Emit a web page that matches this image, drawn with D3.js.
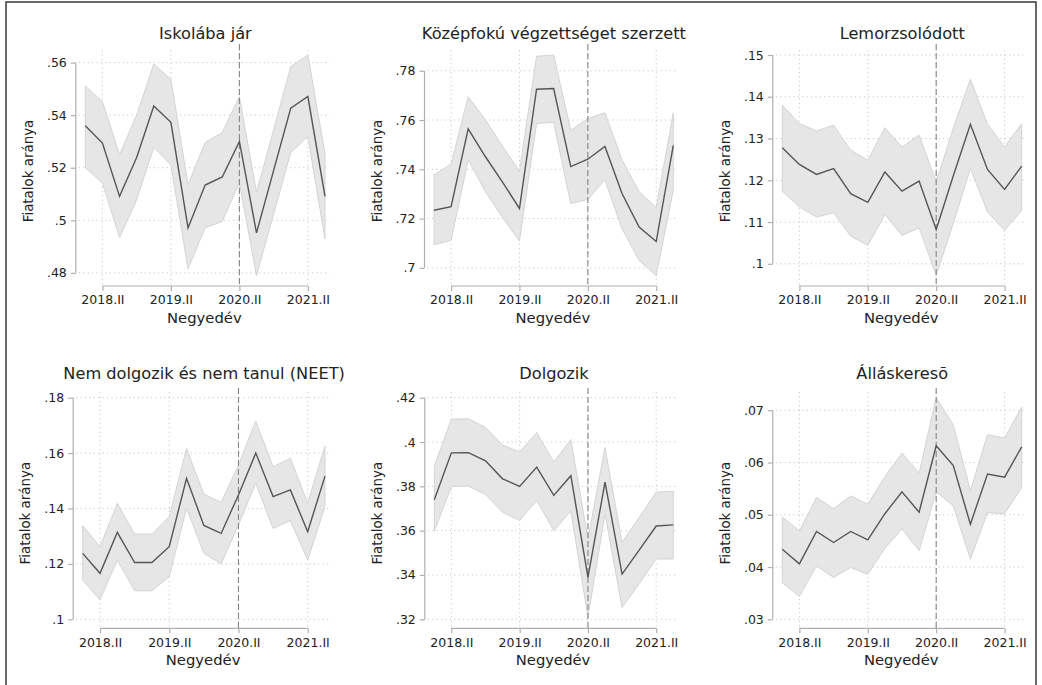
<!DOCTYPE html>
<html><head><meta charset="utf-8">
<script src="https://cdn.jsdelivr.net/npm/d3@7"></script>
<style>body{margin:0;background:#fff}svg{display:block}text{font-family:"DejaVu Sans",sans-serif;fill:#222}</style>
</head><body>
<svg id="c" width="1042" height="685"></svg>
<script>
const quarters = ["2018.I","2018.II","2018.III","2018.IV","2019.I","2019.II","2019.III","2019.IV","2020.I","2020.II","2020.III","2020.IV","2021.I","2021.II","2021.III"];
const xTickLabels = ["2018.II","2019.II","2020.II","2021.II"];
const breakQuarter = "2020.II";
const xTitle = "Negyedév";
const yTitle = "Fiatalok aránya";
const titles = ["Iskolába jár","Középfokú végzettséget szerzett","Lemorzsolódott","Nem dolgozik és nem tanul (NEET)","Dolgozik","Álláskeresõ"];

const iskolaEst = [.536,.5294,.5091,.5239,.5435,.5373,.4971,.5134,.5165,.530,.4952,.519,.5427,.5471,.5091];
const iskolaHi  = [.5511,.5452,.5249,.5401,.5595,.5537,.5135,.5296,.5334,.5471,.5106,.5345,.5585,.5629,.5253];
const iskolaLo  = [.520,.5142,.4934,.5078,.5278,.5211,.4815,.4971,.4996,.5142,.479,.5024,.5258,.5319,.4929];
const iskolaTicks = [.48,.5,.52,.54,.56];

const kozepEst = [.7234,.7248,.7564,.7452,.7349,.7241,.7725,.7728,.7411,.7441,.7493,.7302,.7166,.7107,.7497];
const kozepHi  = [.7377,.7422,.7695,.7602,.7495,.7391,.7859,.7864,.7558,.7606,.7629,.7439,.7309,.7245,.7629];
const kozepLo  = [.7094,.7111,.7439,.731,.7205,.7109,.7586,.7591,.7261,.7278,.7357,.7159,.703,.6969,.7316];
const kozepTicks = [.7,.72,.74,.76,.78];

const lemorEst = [.1278,.1238,.1214,.1228,.1168,.1147,.122,.1174,.1198,.1082,.1211,.1334,.1226,.1178,.1234];
const lemorHi  = [.138,.1336,.1318,.1332,.1272,.1248,.1326,.128,.1308,.1196,.1325,.1442,.1334,.128,.1336];
const lemorLo  = [.1174,.1136,.1112,.1122,.1066,.1044,.1118,.1068,.1086,.0972,.1097,.1228,.1124,.108,.1128];
const lemorTicks = [.1,.11,.12,.13,.14,.15];

const neetEst = [.1238,.1166,.1314,.1205,.1205,.1262,.1509,.1339,.131,.1449,.16,.1443,.1467,.1316,.1517];
const neetHi  = [.1339,.1262,.1419,.1308,.1308,.1371,.1617,.1452,.1422,.1557,.1716,.1551,.1581,.1419,.1626];
const neetLo  = [.1142,.107,.1214,.1103,.1103,.1154,.1401,.1238,.12,.134,.1491,.1328,.1356,.1214,.1407];
const neetTicks = [.1,.12,.14,.16,.18];

const dolgEst = [.3739,.3951,.3952,.3915,.3834,.38,.3887,.3759,.3848,.3389,.3819,.3404,.3512,.3621,.3626];
const dolgHi  = [.389,.4103,.4105,.4066,.3986,.3955,.4043,.391,.4011,.3563,.3975,.3547,.366,.3774,.3777];
const dolgLo  = [.3597,.38,.3801,.3763,.3683,.3646,.3736,.36,.3688,.3208,.3676,.3253,.336,.3472,.3472];
const dolgTicks = [.32,.34,.36,.38,.4,.42];

const allasEst = [.0434,.0406,.0468,.0447,.0468,.0452,.0502,.0544,.0505,.0632,.0594,.0482,.0578,.0572,.063];
const allasHi  = [.0496,.0469,.0533,.0512,.0536,.052,.0573,.0618,.058,.0724,.0672,.0546,.0653,.0647,.0706];
const allasLo  = [.037,.0344,.0402,.038,.0399,.0386,.0436,.0473,.0431,.0544,.0517,.0415,.0504,.0502,.0552];
const allasTicks = [.03,.04,.05,.06,.07];

const panels = [
  {title:titles[0], est:iskolaEst, hi:iskolaHi, lo:iskolaLo, ticks:iskolaTicks},
  {title:titles[1], est:kozepEst, hi:kozepHi, lo:kozepLo, ticks:kozepTicks},
  {title:titles[2], est:lemorEst, hi:lemorHi, lo:lemorLo, ticks:lemorTicks},
  {title:titles[3], est:neetEst, hi:neetHi, lo:neetLo, ticks:neetTicks},
  {title:titles[4], est:dolgEst, hi:dolgHi, lo:dolgLo, ticks:dolgTicks},
  {title:titles[5], est:allasEst, hi:allasHi, lo:allasLo, ticks:allasTicks}
];

// layout
const colX = [[[85.3,325],[434,673.3],[782.3,1021.7]],[[82.7,325],[434.3,673.3],[782.3,1021.7]]];
const rows = [
  {dataTop:55, dataBot:275.5, axisY:286, gridTop:50, dashTop:44, tickLab:303.5, xTitleY:322.5, titleY:39.3},
  {dataTop:397.7, dataBot:619.3, axisY:628.3, gridTop:392, dashTop:388, tickLab:647.5, xTitleY:665, titleY:379.3}
];

const svg = d3.select("#c");
svg.append("rect").attr("x",6).attr("y",2).attr("width",1030).attr("height",700)
  .attr("fill","#fff").attr("stroke","#444").attr("stroke-width",1.6);

const fmt = v => String(+v.toFixed(3)).replace(/^0/, "");
const gridCol = "#c8c8c8", axisCol = "#b0b0b0";

panels.forEach((p, i) => {
  const r = Math.floor(i/3), c = i%3;
  const R = rows[r];
  const [x0, x1] = colX[r][c];
  const x = d3.scalePoint().domain(quarters).range([x0, x1]);
  const ymin = d3.min([...p.lo, ...p.ticks]), ymax = d3.max([...p.hi, ...p.ticks]);
  const y = d3.scaleLinear().domain([ymin, ymax]).range([R.dataBot, R.dataTop]);
  const axisX = x0 - 9.5;
  const regL = axisX + 3, regR = x1 + 5;
  const g = svg.append("g");

  g.selectAll(".hg").data(p.ticks).join("line")
    .attr("x1", regL).attr("x2", regR).attr("y1", d=>y(d)).attr("y2", d=>y(d))
    .attr("stroke", gridCol).attr("stroke-width",1).attr("stroke-dasharray","1.2,3.2");
  g.selectAll(".vg").data(xTickLabels).join("line")
    .attr("x1", d=>x(d)).attr("x2", d=>x(d)).attr("y1", R.gridTop).attr("y2", R.axisY)
    .attr("stroke", gridCol).attr("stroke-width",1).attr("stroke-dasharray","1.2,3.2");

  const idx = d3.range(quarters.length);
  g.append("path").datum(idx)
    .attr("d", d3.area().x(k=>x(quarters[k])).y0(k=>y(p.lo[k])).y1(k=>y(p.hi[k])))
    .attr("fill","#e6e6e6").attr("stroke","#d4d4d4").attr("stroke-width",1);

  g.append("line").attr("x1", x(breakQuarter)).attr("x2", x(breakQuarter))
    .attr("y1", R.dashTop).attr("y2", R.axisY)
    .attr("stroke","#858585").attr("stroke-width",1.1).attr("stroke-dasharray","6,3");

  g.append("path").datum(idx)
    .attr("d", d3.line().x(k=>x(quarters[k])).y(k=>y(p.est[k])))
    .attr("fill","none").attr("stroke","#555").attr("stroke-width",1.4);

  const ya = d3.axisLeft(y).tickValues(p.ticks).tickFormat(fmt).tickSize(5).tickPadding(4);
  const yg = g.append("g").attr("transform",`translate(${axisX},0)`).call(ya);
  yg.select(".domain").remove();
  yg.append("line").attr("x1",0).attr("x2",0).attr("y1",y(d3.min(p.ticks))).attr("y2",y(d3.max(p.ticks)))
    .attr("stroke",axisCol).attr("stroke-width",1.2);
  yg.selectAll(".tick line").attr("stroke",axisCol).attr("stroke-width",1.2);
  yg.selectAll(".tick text").attr("font-size",12.5).attr("fill","#222").attr("font-family","DejaVu Sans");

  const xa = d3.axisBottom(x).tickValues(xTickLabels).tickSize(5).tickPadding(4);
  const xg = g.append("g").attr("transform",`translate(0,${R.axisY})`).call(xa);
  xg.select(".domain").remove();
  xg.append("line").attr("x1",x(xTickLabels[0])).attr("x2",x(xTickLabels[xTickLabels.length-1]))
    .attr("y1",0).attr("y2",0).attr("stroke",axisCol).attr("stroke-width",1.2);
  xg.selectAll(".tick line").attr("stroke",axisCol).attr("stroke-width",1.2);
  xg.selectAll(".tick text").attr("font-size",12.5).attr("fill","#222").attr("font-family","DejaVu Sans")
    .attr("dy",null).attr("y", R.tickLab - R.axisY);

  const cx = (regL + regR)/2;
  g.append("text").attr("x", cx + 1).attr("y", R.titleY).attr("text-anchor","middle")
    .attr("font-size",16.2).text(p.title);
  g.append("text").attr("x", cx).attr("y", R.xTitleY).attr("text-anchor","middle")
    .attr("font-size",14.8).text(xTitle);
  const ty = (R.gridTop + R.axisY)/2 + 3;
  g.append("text").attr("transform",`translate(${axisX-43},${ty}) rotate(-90)`)
    .attr("text-anchor","middle").attr("font-size",13.4).text(yTitle);
});
</script>
</body></html>
